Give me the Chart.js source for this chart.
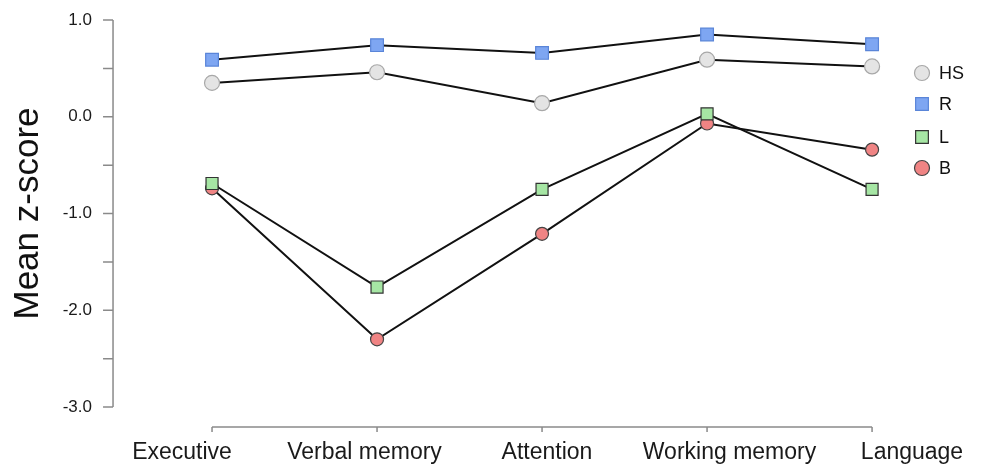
<!DOCTYPE html>
<html>
<head>
<meta charset="utf-8">
<script src="https://cdn.jsdelivr.net/npm/chart.js@4.4.1/dist/chart.umd.min.js"></script>
<style>
  html, body { margin: 0; padding: 0; background: #fff; }
  #wrap { width: 984px; height: 467px; position: relative; }
</style>
</head>
<body>
<div id="wrap"><canvas id="chart"></canvas></div>
<script>
// categories and group means
const domains = ['Executive', 'Verbal memory', 'Attention', 'Working memory', 'Language'];
const hsScores = [0.35, 0.46, 0.14, 0.59, 0.52];
const rScores  = [0.59, 0.74, 0.66, 0.85, 0.75];
const lScores  = [-0.69, -1.76, -0.75, 0.03, -0.75];
const bScores  = [-0.74, -2.30, -1.21, -0.07, -0.34];
const yTicks   = [1, 0.5, 0, -0.5, -1, -1.5, -2, -2.5, -3];

const FONT = 'Arial, "Liberation Sans", Helvetica, sans-serif';
const AXIS_GRAY = '#8a8a8a';

const groups = [
  { label: 'HS', data: hsScores, style: 'circle', fill: '#e4e4e4', edge: '#a8a8a8', r: 7.5 },
  { label: 'R',  data: rScores,  style: 'rect',   fill: '#7ea6f2', edge: '#5a85d8', r: 9 },
  { label: 'L',  data: lScores,  style: 'rect',   fill: '#a6e6a4', edge: '#333333', r: 8.5 },
  { label: 'B',  data: bScores,  style: 'circle', fill: '#f08484', edge: '#444444', r: 6.5 }
];

/* ---------- detached axes (R-style) ---------- */
const rAxes = {
  id: 'rAxes',
  afterDraw(chart) {
    const { ctx, scales: { x, y } } = chart;
    const x0 = x.getPixelForValue(0);
    const x1 = x.getPixelForValue(domains.length - 1);
    ctx.save();
    ctx.strokeStyle = AXIS_GRAY;
    ctx.lineWidth = 1.5;

    // y axis, left of the first category
    const ax = x0 - 99;
    ctx.beginPath();
    ctx.moveTo(ax, y.getPixelForValue(1));
    ctx.lineTo(ax, y.getPixelForValue(-3));
    yTicks.forEach(v => {
      const py = y.getPixelForValue(v);
      ctx.moveTo(ax - 10, py);
      ctx.lineTo(ax, py);
    });
    ctx.stroke();

    // x axis, below the plot
    const ay = y.getPixelForValue(-3) + 20;
    ctx.beginPath();
    ctx.moveTo(x0, ay);
    ctx.lineTo(x1, ay);
    domains.forEach((d, i) => {
      const px = x.getPixelForValue(i);
      ctx.moveTo(px, ay);
      ctx.lineTo(px, ay + 5);
    });
    ctx.stroke();
    ctx.restore();
  }
};

/* ---------- legend on the right ---------- */
const legendY = [73, 104, 137, 168];
const sideLegend = {
  id: 'sideLegend',
  afterDraw(chart) {
    const { ctx } = chart;
    ctx.save();
    ctx.font = '18px ' + FONT;
    ctx.textBaseline = 'middle';
    groups.forEach((g, i) => {
      const cy = legendY[i];
      ctx.fillStyle = g.fill;
      ctx.strokeStyle = g.edge;
      ctx.lineWidth = 1.2;
      Chart.helpers.drawPoint(ctx, {
        pointStyle: g.style, radius: g.style === 'rect' ? 9 : 7.5, borderWidth: 1.2
      }, 922, cy);
      ctx.fillStyle = '#111';
      ctx.fillText(g.label, 939, cy + 1);
    });
    ctx.restore();
  }
};

const datasets = groups.map((g, i) => ({
  label: g.label,
  data: g.data.map((v, k) => ({ x: k, y: v })),
  xAxisID: 'x',
  borderColor: '#111',
  borderWidth: 2,
  pointStyle: g.style,
  pointRadius: g.r,
  pointHoverRadius: g.r,
  pointBackgroundColor: g.fill,
  pointBorderColor: g.edge,
  pointBorderWidth: 1.2,
  tension: 0,
  fill: false,
  order: groups.length - i
}));
// L markers sit on top of B
datasets[2].order = 0;

new Chart(document.getElementById('chart'), {
  type: 'line',
  data: { labels: domains, datasets },
  options: {
    responsive: true,
    maintainAspectRatio: false,
    animation: false,
    layout: { padding: { top: 20, right: 72, left: 0, bottom: 0 } },
    plugins: { legend: { display: false }, tooltip: { enabled: false } },
    scales: {
      // data axis (hidden); the names sit a little wider apart than the points
      x: {
        type: 'linear',
        display: false,
        min: -0.182,
        max: 4.242
      },
      names: {
        type: 'category',
        position: 'bottom',
        labels: domains,
        offset: false,
        grid: { display: false, drawTicks: true, tickLength: 32 },
        border: { display: false },
        ticks: { color: '#1a1a1a', padding: 0, maxRotation: 0, autoSkip: false,
                 font: { family: FONT, size: 23 } },
        afterFit(scale) { scale.height = 60; }
      },
      y: {
        min: -3,
        max: 1,
        grid: { display: false, drawTicks: true, tickLength: 90 },
        border: { display: false },
        afterBuildTicks(scale) { scale.ticks = yTicks.map(v => ({ value: v })); },
        ticks: {
          color: '#1a1a1a',
          padding: 0,
          font: { family: FONT, size: 17 },
          callback: v => (Number.isInteger(v) ? v.toFixed(1) : '')
        },
        title: {
          display: true,
          text: 'Mean z-score',
          color: '#111',
          font: { family: FONT, size: 35 },
          padding: { top: 7, bottom: 0 }
        },
        afterFit(scale) { scale.width = 182; }
      }
    }
  },
  plugins: [rAxes, sideLegend]
});
</script>
</body>
</html>
